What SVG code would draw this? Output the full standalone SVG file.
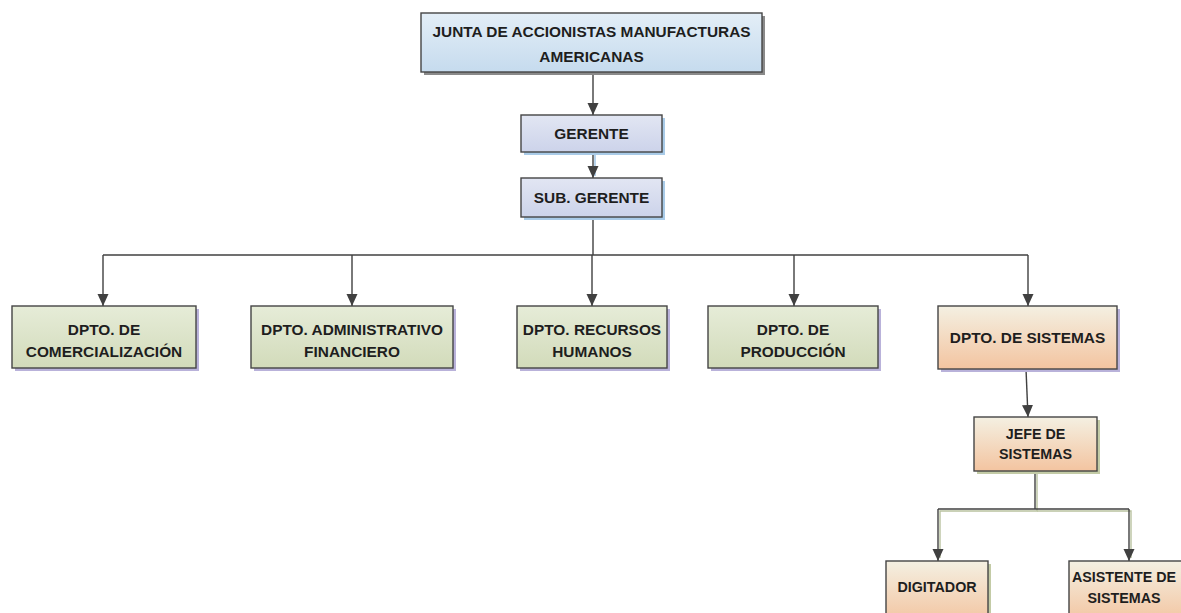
<svg xmlns="http://www.w3.org/2000/svg" width="1181" height="613" viewBox="0 0 1181 613">
<defs>
<linearGradient id="gBlue" x1="0" y1="0" x2="0" y2="1"><stop offset="0" stop-color="#e3eef7"/><stop offset="1" stop-color="#c6dbee"/></linearGradient>
<linearGradient id="gLav" x1="0" y1="0" x2="0" y2="1"><stop offset="0" stop-color="#e2e6f3"/><stop offset="1" stop-color="#ccd3ea"/></linearGradient>
<linearGradient id="gGreen" x1="0" y1="0" x2="0" y2="1"><stop offset="0" stop-color="#e6ecd8"/><stop offset="1" stop-color="#d2dbba"/></linearGradient>
<linearGradient id="gOrange" x1="0" y1="0" x2="0" y2="1"><stop offset="0" stop-color="#f4f0e2"/><stop offset="1" stop-color="#f3c4a0"/></linearGradient>
<marker id="arr" markerWidth="12" markerHeight="12" viewBox="0 0 12 12" refX="12" refY="6" orient="auto" markerUnits="userSpaceOnUse"><path d="M0,0.5 L12,6 L0,11.5 Z" fill="#404040"/></marker>
<style>
.box{stroke:#454545;stroke-width:1.4}
.t{font-family:"Liberation Sans",Arial,sans-serif;font-weight:bold;font-size:15.4px;fill:#1e1e1e;text-anchor:middle}
.s{font-size:14.3px}
.c{fill:none;stroke:#404040;stroke-width:1.4}
.sh2{fill:none;stroke:#b9c2a0;stroke-width:1.4}
</style>
</defs>
<rect width="1181" height="613" fill="#ffffff"/>
<g id="connectors">
<line class="c" x1="593" y1="73" x2="593" y2="115" marker-end="url(#arr)"/>
<line x1="595" y1="153" x2="595" y2="176" stroke="#9cc3e5" stroke-width="1.4"/>
<line class="c" x1="593" y1="152" x2="593" y2="178" marker-end="url(#arr)"/>
<polyline class="c" points="593,217 593,255"/>
<line class="c" x1="103" y1="255" x2="1028" y2="255"/>
<line class="c" x1="103" y1="255" x2="103" y2="306" marker-end="url(#arr)"/>
<line class="c" x1="352" y1="255" x2="352" y2="306" marker-end="url(#arr)"/>
<line class="c" x1="592" y1="255" x2="592" y2="306" marker-end="url(#arr)"/>
<line class="c" x1="794" y1="255" x2="794" y2="306" marker-end="url(#arr)"/>
<line class="c" x1="1028" y1="255" x2="1028" y2="306" marker-end="url(#arr)"/>
<line class="c" x1="1026" y1="369" x2="1028" y2="417" marker-end="url(#arr)"/>
<polyline class="sh2" points="1037,472 1037,511 940,511 940,558"/>
<polyline class="sh2" points="1037,511 1131,511 1131,558"/>
<polyline class="c" points="1035,471 1035,509"/>
<polyline class="c" points="938,509 1129,509"/>
<line class="c" x1="938" y1="509" x2="938" y2="561" marker-end="url(#arr)"/>
<line class="c" x1="1129" y1="509" x2="1129" y2="561" marker-end="url(#arr)"/>
</g>
<g id="junta">
<rect x="424" y="16" width="341" height="59" fill="#8a8a8a"/>
<rect class="box" x="421" y="13" width="341" height="59" fill="url(#gBlue)"/>
<text class="t" x="591.5" y="36.5">JUNTA DE ACCIONISTAS MANUFACTURAS</text>
<text class="t" x="591.5" y="61.5">AMERICANAS</text>
</g>
<g id="gerente">
<rect x="524" y="118" width="141" height="37" fill="#a9cbe8"/>
<rect class="box" x="521" y="115" width="141" height="37" fill="url(#gLav)"/>
<text class="t" x="591.5" y="139">GERENTE</text>
</g>
<g id="subgerente">
<rect x="524" y="181" width="141" height="39" fill="#a9cbe8"/>
<rect class="box" x="521" y="178" width="141" height="39" fill="url(#gLav)"/>
<text class="t" x="591.5" y="203">SUB. GERENTE</text>
</g>
<g id="comercializacion">
<rect x="15" y="309" width="184" height="62" fill="#b9b2da"/>
<rect class="box" x="12" y="306" width="184" height="62" fill="url(#gGreen)"/>
<text class="t" x="104" y="334.5">DPTO. DE</text>
<text class="t" x="104" y="356.5">COMERCIALIZACIÓN</text>
</g>
<g id="administrativo">
<rect x="254" y="309" width="202" height="62" fill="#b9b2da"/>
<rect class="box" x="251" y="306" width="202" height="62" fill="url(#gGreen)"/>
<text class="t" x="352" y="334.5">DPTO. ADMINISTRATIVO</text>
<text class="t" x="352" y="356.5">FINANCIERO</text>
</g>
<g id="rrhh">
<rect x="520" y="309" width="150" height="62" fill="#b9b2da"/>
<rect class="box" x="517" y="306" width="150" height="62" fill="url(#gGreen)"/>
<text class="t" x="592" y="334.5">DPTO. RECURSOS</text>
<text class="t" x="592" y="356.5">HUMANOS</text>
</g>
<g id="produccion">
<rect x="711" y="309" width="170" height="62" fill="#b9b2da"/>
<rect class="box" x="708" y="306" width="170" height="62" fill="url(#gGreen)"/>
<text class="t" x="793" y="334.5">DPTO. DE</text>
<text class="t" x="793" y="356.5">PRODUCCIÓN</text>
</g>
<g id="sistemas">
<rect x="941" y="309" width="179" height="63" fill="#b9b2da"/>
<rect class="box" x="938" y="306" width="179" height="63" fill="url(#gOrange)"/>
<text class="t" x="1027.5" y="343">DPTO. DE SISTEMAS</text>
</g>
<g id="jefe">
<rect x="977" y="420" width="123" height="54" fill="#c3cba6"/>
<rect class="box" x="974" y="417" width="123" height="54" fill="url(#gOrange)"/>
<text class="t s" x="1035.5" y="439">JEFE DE</text>
<text class="t s" x="1035.5" y="459">SISTEMAS</text>
</g>
<g id="digitador">
<rect x="889" y="564" width="102" height="62" fill="#c3cba6"/>
<rect class="box" x="886" y="561" width="102" height="62" fill="url(#gOrange)"/>
<text class="t s" x="937" y="592">DIGITADOR</text>
</g>
<g id="asistente">
<rect class="box" x="1069" y="561" width="116" height="62" fill="url(#gOrange)"/>
<text class="t s" x="1124" y="582">ASISTENTE DE</text>
<text class="t s" x="1124" y="603">SISTEMAS</text>
</g>
</svg>
